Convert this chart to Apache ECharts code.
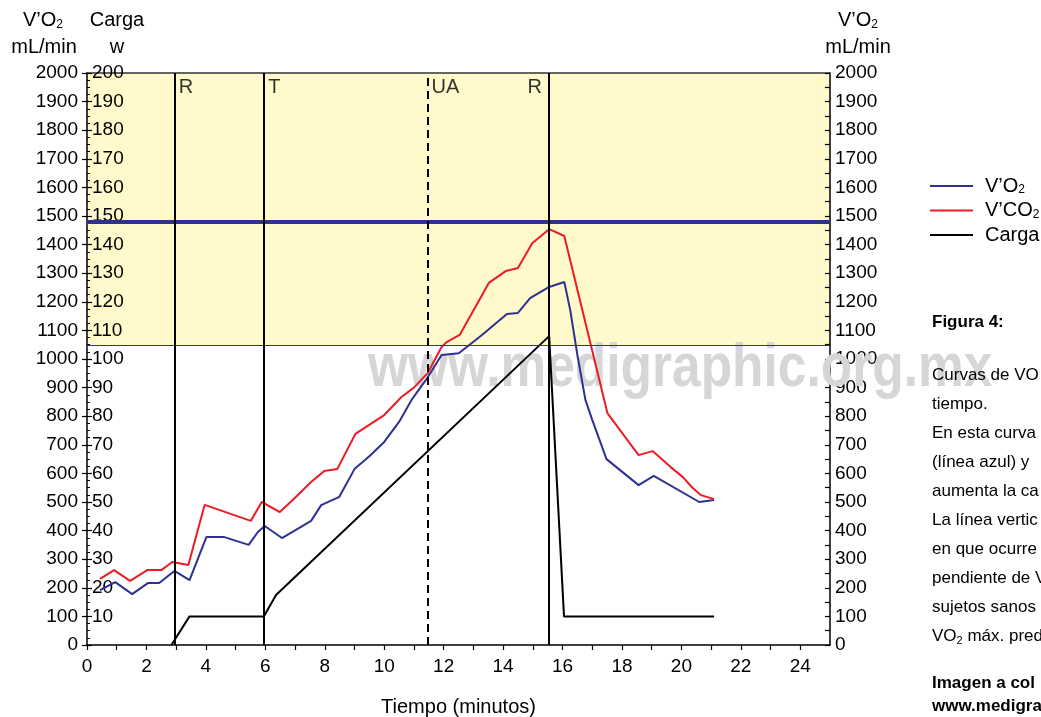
<!DOCTYPE html>
<html>
<head>
<meta charset="utf-8">
<script src="https://cdn.jsdelivr.net/npm/echarts@6/dist/echarts.min.js"></script>
<style>
html,body{margin:0;padding:0;background:#fff;}
#chart{width:1041px;height:717px;}
</style>
</head>
<body>
<div id="chart"></div>
<script>
// ---- data ----
const vo2Time = [0.44,0.95,1.52,2.06,2.43,2.94,3.45,4.02,4.6,5.44,5.75,5.98,6.56,7.54,7.88,8.49,9.0,9.5,10.0,10.5,10.92,11.46,11.93,12.51,13.3,14.13,14.5,14.91,15.55,16.06,16.26,16.5,16.77,17.0,17.48,18.56,19.07,20.6,21.1];
const vo2Vals = [192,220,178,217,217,259,227,378,378,350,395,416,374,434,489,518,615,660,710,780,857,935,1014,1020,1085,1157,1161,1213,1252,1269,1171,1014,857,787,650,559,591,500,507];
const vco2Time = [0.44,0.91,1.45,2.03,2.5,2.87,3.41,3.96,5.51,5.88,6.49,7.0,7.54,7.98,8.42,9.03,10.0,10.58,11.0,11.46,11.93,12.1,12.54,13.52,14.1,14.5,14.98,15.55,16.06,17.51,18.56,19.03,19.64,20.05,20.38,20.66,21.1];
const vco2Vals = [231,262,224,262,262,290,280,490,434,500,465,515,570,608,615,738,804,867,900,950,1042,1059,1084,1266,1308,1318,1405,1454,1430,811,664,678,622,587,549,524,510];
const cargaTime = [2.84,3.45,5.95,6.36,15.55,16.05,21.1];
const cargaVals = [0,10,10,17.5,108,10,10];
const markerTimes = [2.95,5.96,11.46,15.54];
const markerLabels = ['R','T','UA','R'];
const thickLineVal = 1479;
const bandFrom = 1049;
const bandTo = 2000;
const xTicks = [0,2,4,6,8,10,12,14,16,18,20,22,24];
const captionLines = ['Curvas de VO','tiempo.','En esta curva','(línea azul) y','aumenta la ca','La línea vertic','en que ocurre','pendiente de V','sujetos sanos','VO{s|2} máx. pred'];

const FONT = '"Liberation Sans", Arial, sans-serif';
const BLUE = '#2e3192', RED = '#ed1c24';

const zip = (a,b)=>a.map((v,i)=>[v,b[i]]);

const chart = echarts.init(document.getElementById('chart'));
const subRich = { s: { fontSize: 12, fontFamily: FONT, color:'#000', verticalAlign:'bottom', padding:[9,0,0,0] } };

const graphics = [
  {type:'text', z:1, x:368, y:369, scaleX:0.83, silent:true,
   style:{text:'www.medigraphic.org.mx', x:0, y:0, verticalAlign:'middle', fill:'#d6d6d8', font:'bold 62px "Liberation Sans", Arial, sans-serif'}},
  {type:'text', style:{text:'V’O{s|2}', x:43, y:20, align:'center', verticalAlign:'middle', fill:'#000', font:'20px '+FONT, rich:subRich}},
  {type:'text', style:{text:'mL/min', x:44, y:47, align:'center', verticalAlign:'middle', fill:'#000', font:'20px '+FONT}},
  {type:'text', style:{text:'Carga', x:117, y:20, align:'center', verticalAlign:'middle', fill:'#000', font:'20px '+FONT}},
  {type:'text', style:{text:'w', x:117, y:47, align:'center', verticalAlign:'middle', fill:'#000', font:'20px '+FONT}},
  {type:'text', style:{text:'V’O{s|2}', x:858, y:20, align:'center', verticalAlign:'middle', fill:'#000', font:'20px '+FONT, rich:subRich}},
  {type:'text', style:{text:'mL/min', x:858, y:47, align:'center', verticalAlign:'middle', fill:'#000', font:'20px '+FONT}},
  {type:'text', style:{text:'Figura 4:', x:932, y:322, verticalAlign:'middle', fill:'#000', font:'bold 17px '+FONT}},
  {type:'text', style:{text:'Imagen a col', x:932, y:683, verticalAlign:'middle', fill:'#000', font:'bold 17px '+FONT}},
  {type:'text', style:{text:'www.medigra', x:932, y:706, verticalAlign:'middle', fill:'#000', font:'bold 17px '+FONT}}
];
captionLines.forEach((t,i)=>{
  graphics.push({type:'text', z:2, style:{text:t, x:932, y:375+i*29, verticalAlign:'middle', fill:'#000', font:'17px '+FONT, rich:{s:{fontSize:11,fontFamily:FONT,color:'#000',verticalAlign:'bottom',padding:[9,0,0,0]}}}});
});

const option = {
  animation:false,
  backgroundColor:'#fff',
  textStyle:{fontFamily:FONT},
  grid:{left:87, right:211, top:73, bottom:72, containLabel:false, outerBoundsMode:'none'},
  legend:{
    orient:'vertical', left:925, top:171, itemWidth:43, itemHeight:2, itemGap:4.5, icon:'rect',
    data:['V’O2','V’CO2','Carga'],
    formatter:n=> n==='V’O2' ? 'V’O{s|2}' : (n==='V’CO2' ? 'V’CO{s|2}' : n),
    textStyle:{fontSize:20, fontFamily:FONT, color:'#000', lineHeight:20, padding:[0,0,0,7], rich:subRich}
  },
  xAxis:[
    {type:'value', position:'bottom', min:0, max:25, interval:1,
     axisLine:{show:true, onZero:false, lineStyle:{color:'#000', width:1.5}},
     axisTick:{show:true, length:5, lineStyle:{color:'#000', width:1.2}},
     axisLabel:{fontSize:19, color:'#000', margin:12, fontFamily:FONT, showMaxLabel:false,
       formatter:v=> xTicks.indexOf(v)>=0 ? String(v) : ''},
     splitLine:{show:false},
     name:'Tiempo (minutos)', nameLocation:'middle', nameGap:52,
     nameTextStyle:{fontSize:20, color:'#000', fontFamily:FONT}},
    {type:'value', position:'top', min:0, max:25,
     axisLine:{show:true, onZero:false, lineStyle:{color:'#333', width:1.5}},
     axisTick:{show:false}, axisLabel:{show:false}, splitLine:{show:false}}
  ],
  yAxis:[
    {type:'value', position:'left', min:0, max:2000, interval:100,
     axisLine:{show:true, onZero:false, lineStyle:{color:'#000', width:1.5}},
     axisTick:{show:true, length:5, lineStyle:{color:'#000', width:1.2}},
     axisLabel:{fontSize:19, color:'#000', margin:9, fontFamily:FONT, formatter:v=>String(v)},
     splitLine:{show:false}},
    {type:'value', position:'left', min:0, max:200, interval:10,
     axisLine:{show:false},
     axisTick:{show:true, inside:true, length:5, lineStyle:{color:'#000', width:1.2}},
     minorTick:{show:true, splitNumber:4, length:3, lineStyle:{color:'#000', width:1}},
     axisLabel:{inside:true, fontSize:19, color:'#000', margin:5, fontFamily:FONT, showMinLabel:false, formatter:v=>String(v)},
     splitLine:{show:false}},
    {type:'value', position:'right', min:0, max:2000, interval:100,
     axisLine:{show:true, onZero:false, lineStyle:{color:'#000', width:1.5}},
     axisTick:{show:true, inside:true, length:5, lineStyle:{color:'#000', width:1.2}},
     minorTick:{show:true, splitNumber:2, length:5, lineStyle:{color:'#000', width:1.2}},
     axisLabel:{fontSize:19, color:'#000', margin:5, fontFamily:FONT, formatter:v=>String(v)},
     splitLine:{show:false}}
  ],
  series:[
    {type:'line', name:'band', data:[], z:0, silent:true,
     markArea:{silent:true, z:0, itemStyle:{color:'#fff9cc'},
       data:[[{yAxis:bandFrom, xAxis:0},{yAxis:bandTo, xAxis:25}]]},
     markLine:{silent:true, symbol:'none', label:{show:false},
       data:[
         {yAxis:thickLineVal, lineStyle:{color:BLUE, width:4, type:'solid'}},
         {yAxis:bandFrom, lineStyle:{color:BLUE, width:1.2, type:'solid'}}
       ]}},
    {type:'line', name:'V’O2', data:zip(vo2Time, vo2Vals), showSymbol:false, symbol:'none', z:4,
     lineStyle:{color:BLUE, width:2}, itemStyle:{color:BLUE}},
    {type:'line', name:'V’CO2', data:zip(vco2Time, vco2Vals), showSymbol:false, symbol:'none', z:4,
     lineStyle:{color:RED, width:2}, itemStyle:{color:RED}},
    {type:'line', name:'Carga', yAxisIndex:1, data:zip(cargaTime, cargaVals), showSymbol:false, symbol:'none', z:4,
     lineStyle:{color:'#000', width:2}, itemStyle:{color:'#000'}},
    {type:'line', name:'markers', data:[], z:5, silent:true,
     markLine:{silent:true, symbol:'none', label:{show:false},
       data: markerTimes.map((t,i)=>({xAxis:t, lineStyle:{color:'#000', width:2, type: markerLabels[i]==='UA' ? [8,5] : 'solid'}}))}},
    {type:'scatter', name:'markerLabels', symbolSize:0, z:6, silent:true,
     data: markerTimes.map((t,i)=>({value:[t,bandTo],
       label:{show:true, formatter:markerLabels[i], fontSize:20, color:'#000', fontFamily:FONT,
         position: i===3 ? [-7,4] : [4,4], align: i===3 ? 'right' : 'left', verticalAlign:'top'}}))}
  ],
  graphic: graphics
};
chart.setOption(option);
</script>
</body>
</html>
